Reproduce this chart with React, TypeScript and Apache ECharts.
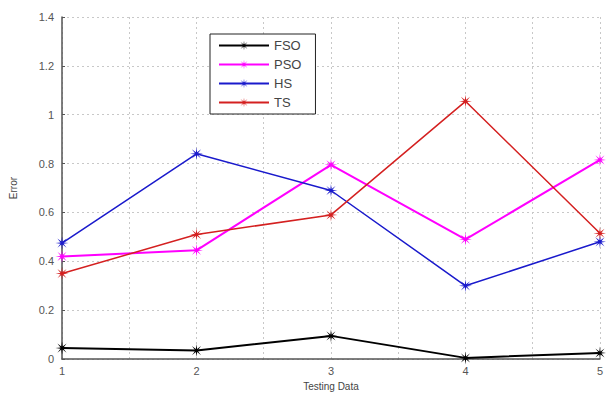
import React, { useEffect, useRef } from "react";
import * as echarts from "echarts";

const xValues = [1, 2, 3, 4, 5];
const fso = [0.045, 0.035, 0.095, 0.005, 0.025];
const pso = [0.42, 0.445, 0.795, 0.49, 0.815];
const hs = [0.475, 0.84, 0.69, 0.3, 0.48];
const ts = [0.35, 0.51, 0.59, 1.055, 0.515];
const seriesNames = ["FSO", "PSO", "HS", "TS"];
const seriesColors = ["#000000", "#ff00ff", "#1a1acc", "#d42020"];

function starPath(): string {
  const pts: string[] = [];
  const n = 8;
  for (let i = 0; i < n * 2; i++) {
    const r = i % 2 === 0 ? 10 : 2.5;
    const a = (Math.PI * i) / n - Math.PI / 2;
    const x = 10 + r * Math.cos(a);
    const y = 10 + r * Math.sin(a);
    pts.push(`${i === 0 ? "M" : "L"}${x.toFixed(2)},${y.toFixed(2)}`);
  }
  return "path://" + pts.join(" ") + " Z";
}

export default function App() {
  const ref = useRef<HTMLDivElement>(null);
  useEffect(() => {
    if (!ref.current) return;
    const chart = echarts.init(ref.current, null, { renderer: "svg" });
    const star = starPath();
    const all = [fso, pso, hs, ts];
    const widths = [2, 2, 1.5, 1.5];
    chart.setOption({
      animation: false,
      backgroundColor: "#ffffff",
      textStyle: { fontFamily: "Liberation Sans, Arial, sans-serif" },
      grid: { left: 62, right: 4, top: 17, bottom: 36, containLabel: false },
      legend: {
        orient: "vertical",
        left: 210,
        top: 34,
        data: seriesNames,
        itemWidth: 50,
        itemHeight: 12,
        itemGap: 6,
        padding: [5, 14, 5, 8],
        borderColor: "#222",
        borderWidth: 1,
        backgroundColor: "#fff",
        textStyle: { fontSize: 13, color: "#444" },
      },
      xAxis: {
        type: "value",
        min: 1,
        max: 5,
        interval: 0.5,
        name: "Testing Data",
        nameLocation: "middle",
        nameGap: 21,
        nameTextStyle: { fontSize: 10, color: "#444" },
        axisLine: { show: true, lineStyle: { color: "#555", width: 1.5 } },
        axisTick: { show: false },
        axisLabel: {
          fontSize: 11,
          color: "#555",
          margin: 6,
          formatter: (v: number) => (Number.isInteger(v) ? String(v) : ""),
        },
        splitLine: { show: true, lineStyle: { color: "#c8c8c8", type: [2, 3], width: 1 } },
      },
      yAxis: {
        type: "value",
        min: 0,
        max: 1.4,
        interval: 0.2,
        name: "Error",
        nameLocation: "middle",
        nameGap: 44,
        nameTextStyle: { fontSize: 10, color: "#444" },
        axisLine: { show: true, lineStyle: { color: "#555", width: 1.5 } },
        axisTick: { show: true, inside: true, length: 3, lineStyle: { color: "#555" } },
        axisLabel: { fontSize: 11, color: "#555", margin: 8 },
        splitLine: { show: true, lineStyle: { color: "#c8c8c8", type: [2, 3], width: 1 } },
      },
      series: all.map((d, i) => ({
        name: seriesNames[i],
        type: "line",
        data: xValues.map((x, j) => [x, d[j]]),
        symbol: star,
        symbolSize: 13,
        showSymbol: true,
        lineStyle: { color: seriesColors[i], width: widths[i] },
        itemStyle: { color: seriesColors[i] },
        z: 2 + i,
      })),
    });
    return () => chart.dispose();
  }, []);
  return (
    <div
      ref={ref}
      style={{ position: "absolute", left: 0, top: 0, width: 606, height: 396 }}
    />
  );
}
